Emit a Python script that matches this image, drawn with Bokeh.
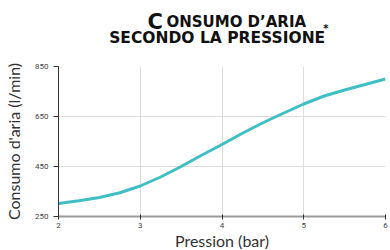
from bokeh.plotting import figure
from bokeh.layouts import column
from bokeh.models import Label, FixedTicker, Range1d
from bokeh.embed import file_html
from bokeh.resources import INLINE

# data
pressure = [2, 2.25, 2.5, 2.75, 3, 3.25, 3.5, 3.75, 4, 4.25, 4.5, 4.75, 5, 5.25, 5.5, 5.75, 6]
consumption = [302, 313, 326, 345, 372, 408, 450, 495, 538, 583, 625, 663, 700, 732, 756, 778, 800]
x_ticks = [2, 3, 4, 5, 6]
y_ticks = [250, 450, 650, 850]

TEAL = "#3fbfc3"
W = 390
H = 250
TH = 60   # title block height
BH = 20   # x-axis title block height
LEFT = 58
RIGHT = 5
x_range = Range1d(2, 6)

def blank(height):
    f = figure(width=W, height=height, output_backend="svg", toolbar_location=None,
               x_range=x_range, y_range=Range1d(height, 0),
               min_border=0, min_border_left=LEFT, min_border_right=RIGHT,
               background_fill_color="white", border_fill_color="white")
    f.axis.visible = False
    f.grid.visible = False
    f.outline_line_color = None
    return f

# ---- title block (shares the chart's horizontal frame) -----------------
tp = blank(TH)
tf = "DejaVu Sans"
def lab(x, y, t, size):
    tp.add_layout(Label(x=x, y=y, text=t, text_font=tf, text_font_style="bold",
                        text_font_size=size, text_color="#111111",
                        text_baseline="alphabetic", text_align="left"))

lab(3.09, 21, "C", "21px")
lab(3.32, 21, "ONSUMO D\u2019ARIA", "15px")
lab(2.62, 37, "SECONDO LA PRESSIONE", "15.5px")
lab(5.24, 28, "*", "10px")

# ---- chart -------------------------------------------------------------
p = figure(width=W, height=H - TH - BH, output_backend="svg", toolbar_location=None,
           x_range=x_range, y_range=Range1d(250, 850),
           min_border_top=6, min_border_right=RIGHT, min_border_left=LEFT, min_border_bottom=0,
           background_fill_color="white", border_fill_color="white")
p.outline_line_color = None

p.line(pressure, consumption, line_color=TEAL, line_width=3)

p.xaxis.ticker = FixedTicker(ticks=x_ticks)
p.yaxis.ticker = FixedTicker(ticks=y_ticks)
for ax in (p.xaxis[0], p.yaxis[0]):
    ax.major_label_text_font = "Roboto"
    ax.major_label_text_font_size = "8px"
    ax.major_label_text_color = "#444444"
    ax.minor_tick_line_color = None
    ax.major_tick_line_color = "#333333"

p.xaxis.axis_line_color = "#999999"
p.xaxis.axis_line_width = 2
p.xaxis.major_tick_in = 2
p.xaxis.major_tick_out = 3
p.xaxis.major_label_standoff = 3

p.yaxis.axis_label = "Consumo d'aria (l/min)"
p.yaxis.axis_label_text_font = "Lato"
p.yaxis.axis_label_text_font_style = "normal"
p.yaxis.axis_label_text_font_size = "16px"
p.yaxis.axis_label_text_color = "#333333"
p.yaxis.axis_line_color = "#333333"
p.yaxis.major_tick_in = 0
p.yaxis.major_tick_out = 5
p.yaxis.major_label_standoff = 5
p.yaxis.axis_label_standoff = 9

p.xgrid.grid_line_color = "#dddddd"
p.ygrid.grid_line_color = "#dddddd"

# ---- x-axis title block --------------------------------------------------
bp = blank(BH)
bp.add_layout(Label(x=4, y=10, text="Pression (bar)", text_font="Lato",
                    text_font_size="16px", text_color="#333333",
                    text_align="center", text_baseline="alphabetic"))

layout = column(tp, p, bp, spacing=0)
open("out.html", "w").write(file_html(layout, INLINE))
